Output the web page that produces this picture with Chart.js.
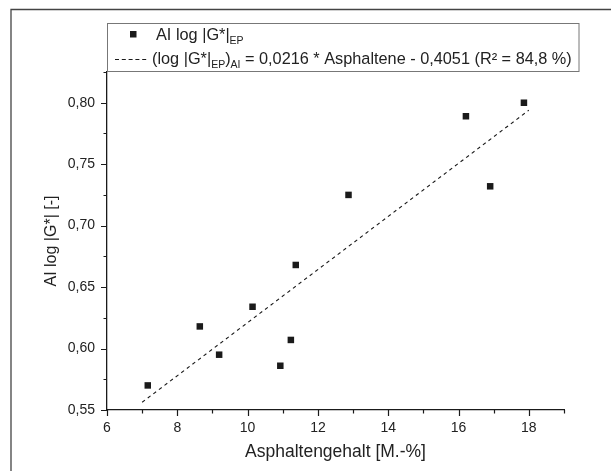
<!DOCTYPE html>
<html><head><meta charset="utf-8">
<script src="https://cdn.jsdelivr.net/npm/chart.js@4/dist/chart.umd.min.js"></script>
<style>html,body{margin:0;padding:0;background:#fff;}canvas{display:block}</style>
</head><body>
<canvas id="c" width="611" height="471"></canvas>
<script>
// Data
const asphaltene = [7.16, 8.64, 9.19, 10.14, 10.93, 11.23, 11.37, 12.87, 16.21, 16.90, 17.86];
const aiLogG     = [0.570, 0.618, 0.595, 0.634, 0.586, 0.607, 0.668, 0.725, 0.789, 0.732, 0.800];
const fitX = [7, 18];
const fitY = [0.5563, 0.7939];
const xMajorTicks = [6, 8, 10, 12, 14, 16, 18];
const xMinorTicks = [7, 9, 11, 13, 15, 17, 19];
const yMajorTicks = [0.55, 0.60, 0.65, 0.70, 0.75, 0.80];
const yMinorTicks = [0.575, 0.625, 0.675, 0.725, 0.775, 0.825];
const xTitle = 'Asphaltengehalt [M.-%]';
const yTitle = 'AI log |G*| [-]';

const FONT = "'Liberation Sans', Arial, sans-serif";
const INK = '#1a1a1a';

const tickMarks = {
  id: 'tickMarks',
  afterDraw(chart) {
    const ctx = chart.ctx, xs = chart.scales.x, ys = chart.scales.y;
    const a = chart.chartArea;
    ctx.save();
    ctx.strokeStyle = INK; ctx.lineWidth = 1.2;
    ctx.beginPath();
    xMajorTicks.forEach(v => { const p = Math.round(xs.getPixelForValue(v)) + 0.5; ctx.moveTo(p, a.bottom); ctx.lineTo(p, a.bottom + 6); });
    xMinorTicks.forEach(v => { const p = Math.round(xs.getPixelForValue(v)) + 0.5; ctx.moveTo(p, a.bottom); ctx.lineTo(p, a.bottom + 3.5); });
    yMajorTicks.forEach(v => { const p = Math.round(ys.getPixelForValue(v)) + 0.5; ctx.moveTo(a.left, p); ctx.lineTo(a.left - 6, p); });
    yMinorTicks.forEach(v => { const p = Math.round(ys.getPixelForValue(v)) + 0.5; ctx.moveTo(a.left, p); ctx.lineTo(a.left - 3.5, p); });
    ctx.stroke();
    // outer frame
    ctx.strokeStyle = '#444'; ctx.lineWidth = 1.3;
    ctx.beginPath(); ctx.moveTo(11, 471); ctx.lineTo(11, 9.5); ctx.lineTo(611, 9.5); ctx.stroke();
    ctx.restore();
  }
};

function drawRuns(ctx, runs, x, y) {
  runs.forEach(r => {
    ctx.font = (r.sub ? '10.5px ' : '16.3px ') + FONT;
    ctx.fillText(r.t, x, y + (r.sub ? 4 : 0));
    x += ctx.measureText(r.t).width;
  });
  return x;
}

const customLegend = {
  id: 'customLegend',
  afterDraw(chart) {
    const ctx = chart.ctx;
    const L = 107, T = 23, R = 579.5, B = 72;
    ctx.save();
    ctx.fillStyle = '#fff';
    ctx.fillRect(L, T, R - L, B - T);
    ctx.strokeStyle = '#777'; ctx.lineWidth = 1;
    ctx.strokeRect(L + 0.5, T + 0.5, R - L - 1, B - T - 1);
    // row 1 marker
    ctx.fillStyle = INK;
    ctx.fillRect(130, 31, 6.5, 6.5);
    ctx.textBaseline = 'alphabetic';
    ctx.fillStyle = '#222';
    drawRuns(ctx, [{t: chart.data.datasets[0].label}, {t: 'EP', sub: true}], 156, 40);
    // row 2 dashed sample
    ctx.strokeStyle = INK; ctx.lineWidth = 1;
    ctx.setLineDash([4, 2.8]);
    ctx.beginPath(); ctx.moveTo(115, 59.5); ctx.lineTo(149, 59.5); ctx.stroke();
    ctx.setLineDash([]);
    drawRuns(ctx, [{t: '(log |G*|'}, {t: 'EP', sub: true}, {t: ')'}, {t: 'AI', sub: true},
      {t: ' = 0,0216 * Asphaltene - 0,4051 (R\u00b2 = 84,8 %)'}], 152, 64);
    ctx.restore();
  }
};

new Chart(document.getElementById('c'), {
  data: {
    datasets: [
      {
        type: 'scatter', label: 'AI log |G*|',
        data: asphaltene.map((x, i) => ({x, y: aiLogG[i]})),
        pointStyle: 'rect', pointRadius: 4.6, pointBackgroundColor: INK, pointBorderColor: INK, pointBorderWidth: 0,
        order: 1
      },
      {
        type: 'line', label: 'fit',
        data: fitX.map((x, i) => ({x, y: fitY[i]})),
        borderColor: INK, borderWidth: 1.1, borderDash: [3.5, 3.5], pointRadius: 0, fill: false,
        order: 2
      }
    ]
  },
  options: {
    responsive: false, animation: false,
    layout: {padding: {left: 0, top: 72, right: 47, bottom: 0}},
    plugins: {legend: {display: false}, tooltip: {enabled: false}},
    scales: {
      x: {
        type: 'linear', min: 6, max: 19,
        afterBuildTicks: s => { s.ticks = xMajorTicks.map(v => ({value: v})); },
        afterFit: s => { s.height = 61; },
        grid: {display: false, drawTicks: false},
        border: {display: true, color: INK, width: 1.3},
        ticks: {padding: 10, color: '#222', font: {family: FONT, size: 14}, callback: v => String(v), maxRotation: 0},
        title: {display: true, text: xTitle, color: '#222', font: {family: FONT, size: 17.5}, padding: {top: 0, bottom: 8}}
      },
      y: {
        type: 'linear', min: 0.55, max: 0.825,
        afterBuildTicks: s => { s.ticks = yMajorTicks.map(v => ({value: v})); },
        afterFit: s => { s.width = 107; },
        grid: {display: false, drawTicks: false},
        border: {display: true, color: INK, width: 1.3},
        ticks: {padding: 12, color: '#222', font: {family: FONT, size: 14}, callback: v => v.toFixed(2).replace('.', ',')},
        title: {display: true, text: yTitle, color: '#222', font: {family: FONT, size: 16}, padding: {top: 42, bottom: 0}}
      }
    }
  },
  plugins: [tickMarks, customLegend]
});
</script>
</body></html>
